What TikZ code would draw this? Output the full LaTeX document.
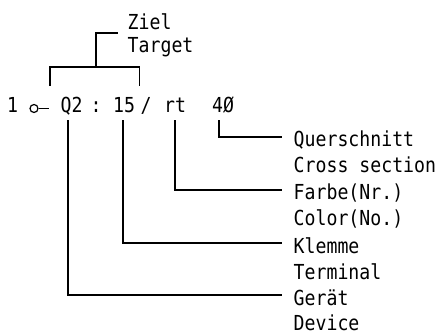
\documentclass[tikz,border=0pt]{standalone}
\usepackage{fontspec}
\newfontfamily\dinfont[FakeStretch=0.88]{DejaVu Sans Mono}
\usetikzlibrary{positioning}

\begin{document}
\begin{tikzpicture}[
    x=0.75pt, y=-0.75pt,
    token/.style={inner xsep=4.5pt, inner ysep=5pt, text height=15pt, text depth=0pt, anchor=base},
    caption/.style={inner xsep=8.25pt, inner ysep=0pt, text height=15pt, text depth=0pt, anchor=base west},
    title/.style={inner sep=0pt, anchor=base west},
    font=\dinfont\fontsize{15.5pt}{18pt}\selectfont,
    line width=1.1pt
]
    \useasboundingbox (0,0) rectangle (438,334);

    % Designation line
    \node[token] (one) at (12.5,113) {1};
    \node[circle, draw, inner sep=0pt, minimum size=6pt, line width=0.9pt] (term) at (34,108.5) {};
    \coordinate (term-e) at (49,108.5);
    \draw (term) -- (term-e);
    \node[token] (q2) at (71.5,113) {Q2};
    \node[token] (colon) at (96,113) {:};
    \node[token] (n15) at (124,113) {15};
    \node[token] (slash) at (146,113) {/};
    \node[token] (rt) at (175,113) {rt};
    \node[token] (n4) at (223,113) {4Ø};

    % Target bracket
    \node[title] (ziel) at (127,30) {Ziel};
    \node[title] (target) at (127,53) {Target};
    \coordinate (brk) at (96,67);
    \coordinate (brk-top) at (118,33);
    \draw ([xshift=-2.7pt]q2.north west) |- (brk) -| ([xshift=-1.5pt]n15.north east);
    \draw (brk) |- (brk-top);

    % Captions
    \node[caption] (qs) at (282,147) {Querschnitt};
    \node[caption] (xs) at (282,173) {Cross section};
    \node[caption] (farbe) at (282,200) {Farbe(Nr.)};
    \node[caption] (color) at (282,226) {Color(No.)};
    \node[caption] (klemme) at (282,253) {Klemme};
    \node[caption] (terminal) at (282,279) {Terminal};
    \node[caption] (geraet) at (282,305) {Gerät};
    \node[caption] (device) at (282,330) {Device};

    \draw ([xshift=-3pt]n4.south) |- (qs.west);
    \draw (rt.south) |- (farbe.west);
    \draw ([xshift=-0.75pt]n15.south) |- (klemme.west);
    \draw ([xshift=-2.6pt]q2.south) |- (geraet.west);
\end{tikzpicture}
\end{document}
